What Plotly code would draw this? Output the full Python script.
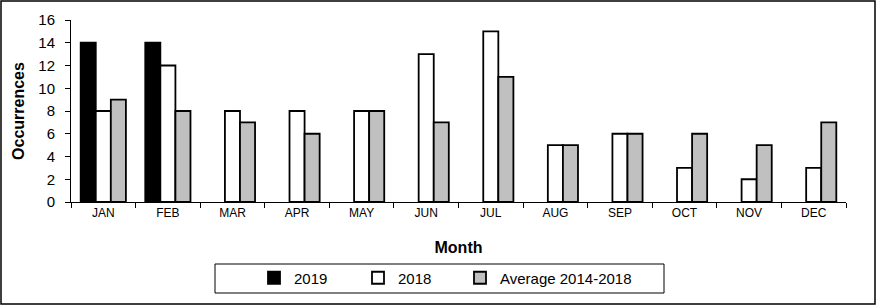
import plotly.graph_objects as go

# ---------------------------------------------------------
# Data
# ---------------------------------------------------------
months = ["JAN", "FEB", "MAR", "APR", "MAY", "JUN",
          "JUL", "AUG", "SEP", "OCT", "NOV", "DEC"]
occ_2019 = [14, 14, None, None, None, None, None, None, None, None, None, None]
occ_2018 = [8, 12, 8, 8, 8, 13, 15, 5, 6, 3, 2, 3]
occ_avg = [9, 8, 7, 6, 8, 7, 11, 5, 6, 6, 5, 7]

# ---------------------------------------------------------
# Layout geometry (pixels)
# ---------------------------------------------------------
W, H = 880, 306
ML, MR, MT, MB = 71, 34, 20, 104
PW, PH = W - ML - MR, H - MT - MB


def px_x(px):
    return (px - ML) / PW


def px_y(py):
    return (H - MB - py) / PH


FONT = "Arial, Liberation Sans, sans-serif"
line = dict(color="black", width=1.8)

fig = go.Figure()
fig.add_trace(go.Bar(x=months, y=occ_2019, name="2019", legend="legend",
                     marker=dict(color="black", line=line)))
fig.add_trace(go.Bar(x=months, y=occ_2018, name="2018", legend="legend2",
                     marker=dict(color="white", line=line)))
fig.add_trace(go.Bar(x=months, y=occ_avg, name="Average 2014-2018", legend="legend3",
                     marker=dict(color="#c0c0c0", line=line)))


def key(left_px):
    return dict(
        x=px_x(left_px - 14), xanchor="left",
        y=px_y(278), yanchor="middle",
        font=dict(size=15),
        itemwidth=30,
        bgcolor="rgba(0,0,0,0)",
    )


fig.update_layout(
    width=W, height=H,
    margin=dict(l=ML, r=MR, t=MT, b=MB),
    paper_bgcolor="white",
    plot_bgcolor="white",
    barmode="group",
    bargap=0.3,
    bargroupgap=0,
    font=dict(family=FONT, color="black"),
    showlegend=True,
    legend=key(268),
    legend2=key(372),
    legend3=key(474),
    shapes=[
        # outer frame
        dict(type="rect", xref="paper", yref="paper",
             x0=px_x(1), x1=px_x(875), y0=px_y(304), y1=px_y(1),
             line=dict(color="black", width=1.5)),
        # legend frame
        dict(type="rect", xref="paper", yref="paper",
             x0=px_x(215), x1=px_x(664), y0=px_y(293), y1=px_y(264),
             line=dict(color="black", width=1)),
    ],
)

fig.update_xaxes(
    showline=True, linecolor="black", linewidth=1,
    ticks="outside", tickson="boundaries", ticklen=5, tickcolor="black",
    tickfont=dict(size=12),
    title=dict(text="<b>Month</b>", font=dict(size=16), standoff=22),
    showgrid=False,
)
fig.update_yaxes(
    range=[0, 16], dtick=2,
    showline=True, linecolor="black", linewidth=1,
    ticks="outside", ticklen=5, tickcolor="black",
    ticklabelstandoff=7,
    tickfont=dict(size=15),
    title=dict(text="<b>Occurrences</b>", font=dict(size=16), standoff=9),
    showgrid=False, zeroline=False,
)

fig.write_html("out.html", config={"displayModeBar": False},
               post_script="document.body.style.margin='0';")
